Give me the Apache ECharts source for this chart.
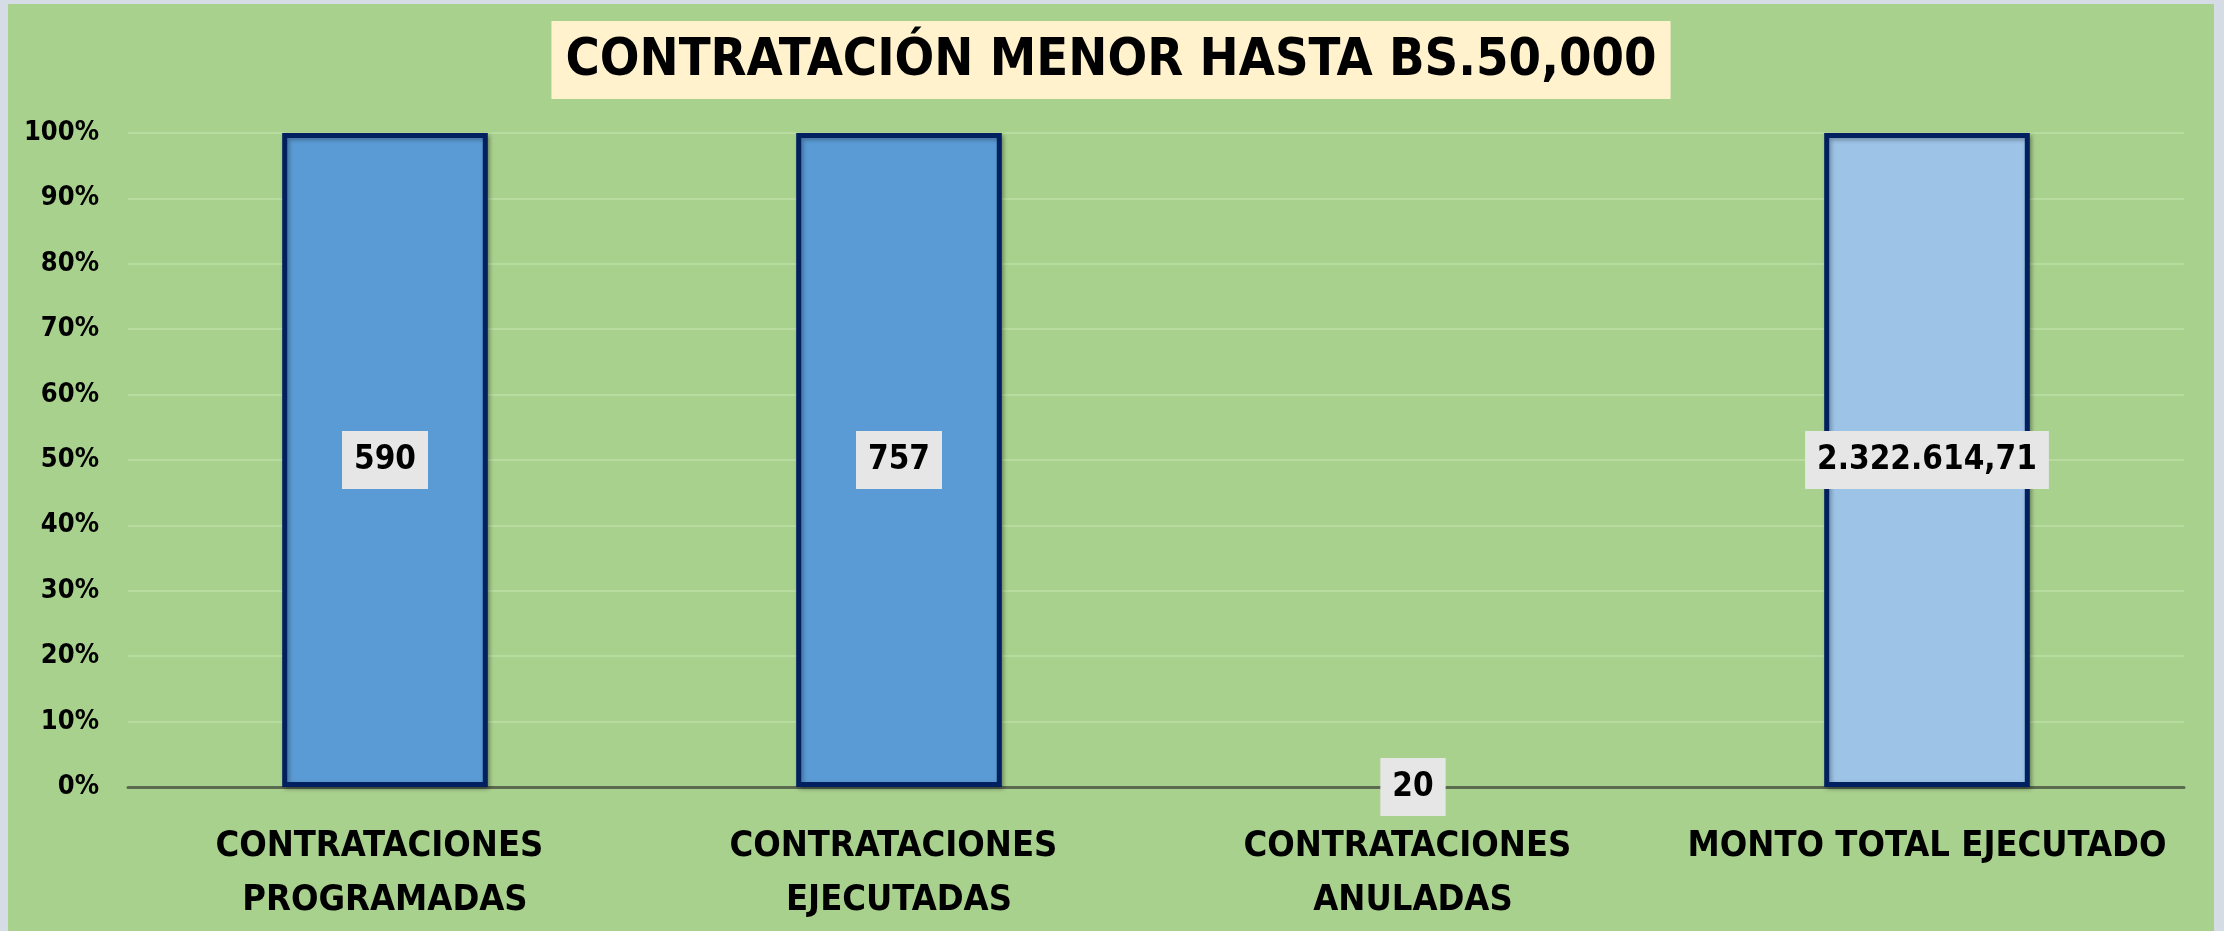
<!DOCTYPE html>
<html>
<head>
<meta charset="utf-8">
<script src="https://cdn.jsdelivr.net/npm/echarts@6/dist/echarts.min.js"></script>
<style>
  html, body { margin: 0; padding: 0; background: #d6dce5; }
  #main { position: absolute; left: 8px; top: 4px; width: 2206px; height: 927px; }
</style>
</head>
<body>
<div id="main"></div>
<script>
// datos del gráfico
const categorias = ['CONTRATACIONES PROGRAMADAS', 'CONTRATACIONES EJECUTADAS', 'CONTRATACIONES ANULADAS', 'MONTO TOTAL EJECUTADO']
const valores = [590, 757, 20, 2322614.71]
const porcentaje = [100, 100, 0, 100]
const colores = ['#5b9bd5', '#5b9bd5', '#5b9bd5', '#9dc3e6']

const FONT = '"Liberation Sans Narrow", "DejaVu Sans Condensed", sans-serif'

// 2322614.71 -> 2.322.614,71
function formato(v) {
  if (Number.isInteger(v)) return String(v)
  const partes = v.toFixed(2).split('.')
  return partes[0].replace(/\B(?=(\d{3})+(?!\d))/g, '.') + ',' + partes[1]
}

const myChart = echarts.init(document.getElementById('main'))

const option = {
  backgroundColor: '#a9d18e',
  animation: false,
  title: {
    text: 'CONTRATACIÓN MENOR HASTA BS.50,000',
    left: 'center',
    top: 17,
    backgroundColor: '#fff2cc',
    padding: [12, 14, 10, 14],
    textStyle: {
      fontFamily: FONT,
      fontSize: 52,
      fontWeight: 'bold',
      color: '#000',
      lineHeight: 56
    }
  },
  grid: {
    left: 120,
    right: 30,
    top: 129,
    bottom: 144
  },
  xAxis: {
    type: 'category',
    data: categorias,
    axisTick: { show: false },
    axisLine: { lineStyle: { color: '#5a6b50', width: 3 } },
    axisLabel: {
      interval: 0,
      width: 540,
      overflow: 'break',
      margin: 33,
      color: '#000',
      fontFamily: FONT,
      fontWeight: 'bold',
      fontSize: 36,
      lineHeight: 54
    }
  },
  yAxis: {
    type: 'value',
    min: 0,
    max: 100,
    interval: 10,
    axisLine: { show: false },
    axisTick: { show: false },
    splitLine: { lineStyle: { color: '#b8dba0', width: 2 } },
    axisLabel: {
      formatter: '{value}%',
      margin: 29,
      color: '#000',
      fontFamily: FONT,
      fontWeight: 'bold',
      fontSize: 27
    }
  },
  series: [
    {
      type: 'bar',
      barWidth: '40%',
      data: porcentaje.map((p, i) => ({
        value: p,
        itemStyle: {
          color: colores[i],
          borderColor: '#002060',
          borderWidth: p > 0 ? 5 : 0,
          shadowColor: 'rgba(0,0,0,0.3)',
          shadowBlur: 4,
          shadowOffsetX: 2,
          shadowOffsetY: 2
        }
      })),
      label: {
        show: true,
        position: 'inside',
        formatter: (p) => formato(valores[p.dataIndex]),
        backgroundColor: '#e7e6e6',
        padding: [11, 12, 11, 12],
        color: '#000',
        fontFamily: FONT,
        fontWeight: 'bold',
        fontSize: 33,
        lineHeight: 36
      }
    }
  ]
}

myChart.setOption(option)
window.addEventListener('resize', () => {
  myChart.resize()
})
</script>
</body>
</html>
